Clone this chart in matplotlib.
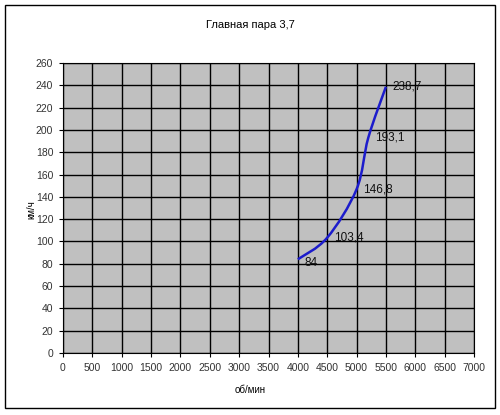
"""Главная пара 3,7 -- speed vs rpm"""

import numpy as np
import matplotlib
matplotlib.use("Agg")
import matplotlib.pyplot as plt
from matplotlib.path import Path
from matplotlib.patches import PathPatch, Rectangle

rpm = [4000, 4500, 5000, 5200, 5500]
speed = [84, 103.4, 146.8, 193.1, 238.7]
labels = ['84', '103,4', '146,8', '193,1', '238,7']

x_ticks = list(range(0, 7001, 500))
y_ticks = list(range(0, 261, 20))


def smooth_path(xs, ys, tension=1 / 6):
    """Cubic bezier path through the points (Catmull-Rom style)"""
    pts = np.column_stack([xs, ys]).astype(float)
    verts = [pts[0]]
    codes = [Path.MOVETO]
    n = len(pts)
    for i in range(n - 1):
        p0 = pts[i - 1] if i > 0 else pts[i]
        p1 = pts[i]
        p2 = pts[i + 1]
        p3 = pts[i + 2] if i + 2 < n else pts[i + 1]
        c1 = p1 + (p2 - p0) * tension
        c2 = p2 - (p3 - p1) * tension
        verts += [c1, c2, p2]
        codes += [Path.CURVE4] * 3
    return Path(verts, codes)


def main():
    plt.rcParams['font.family'] = ['Liberation Sans', 'DejaVu Sans']
    fig = plt.figure(figsize=(5, 4.15), dpi=100)
    fig.patch.set_facecolor('white')

    # outer chart frame
    fig.patches.append(Rectangle((5 / 500, 1 - 408 / 415), 490 / 500, 403 / 415,
                                 transform=fig.transFigure, fill=False,
                                 edgecolor='black', linewidth=1.0))

    ax = fig.add_axes([63 / 500, 1 - 353 / 415, 411 / 500, 290 / 415])
    ax.set_facecolor('#c0c0c0')
    ax.set_xlim(0, 7000)
    ax.set_ylim(0, 260)
    ax.set_xticks(x_ticks)
    ax.set_yticks(y_ticks)
    ax.grid(True, color='black', linewidth=1.0)
    ax.set_axisbelow(True)
    for s in ax.spines.values():
        s.set_color('black')
        s.set_linewidth(0.8)
    ax.tick_params(direction='out', length=3, width=0.8, labelsize=7.5,
                   colors='black', labelcolor='#333333', pad=4)

    # smoothed line like Excel
    patch = PathPatch(smooth_path(rpm, speed), facecolor='none',
                      edgecolor='#1c1ccc', linewidth=1.8)
    ax.add_patch(patch)

    for x, y, t in zip(rpm, speed, labels):
        dy = -3 if t == '84' else 0
        ax.annotate(t, (x, y), xytext=(5, dy),
                    textcoords='offset points', fontsize=8.5, color='#111111',
                    va='center', ha='left')

    fig.text(0.5, 1 - 25 / 415, 'Главная пара 3,7', ha='center', va='center',
             fontsize=8)
    fig.text(250 / 500, 1 - 390 / 415, 'об/мин', ha='center', va='center',
             fontsize=7)
    fig.text(31 / 500, 1 - 210 / 415, 'км/ч', ha='center', va='center',
             fontsize=7, rotation=90)

    fig.savefig('out.png', dpi=100)


if __name__ == "__main__":
    main()
